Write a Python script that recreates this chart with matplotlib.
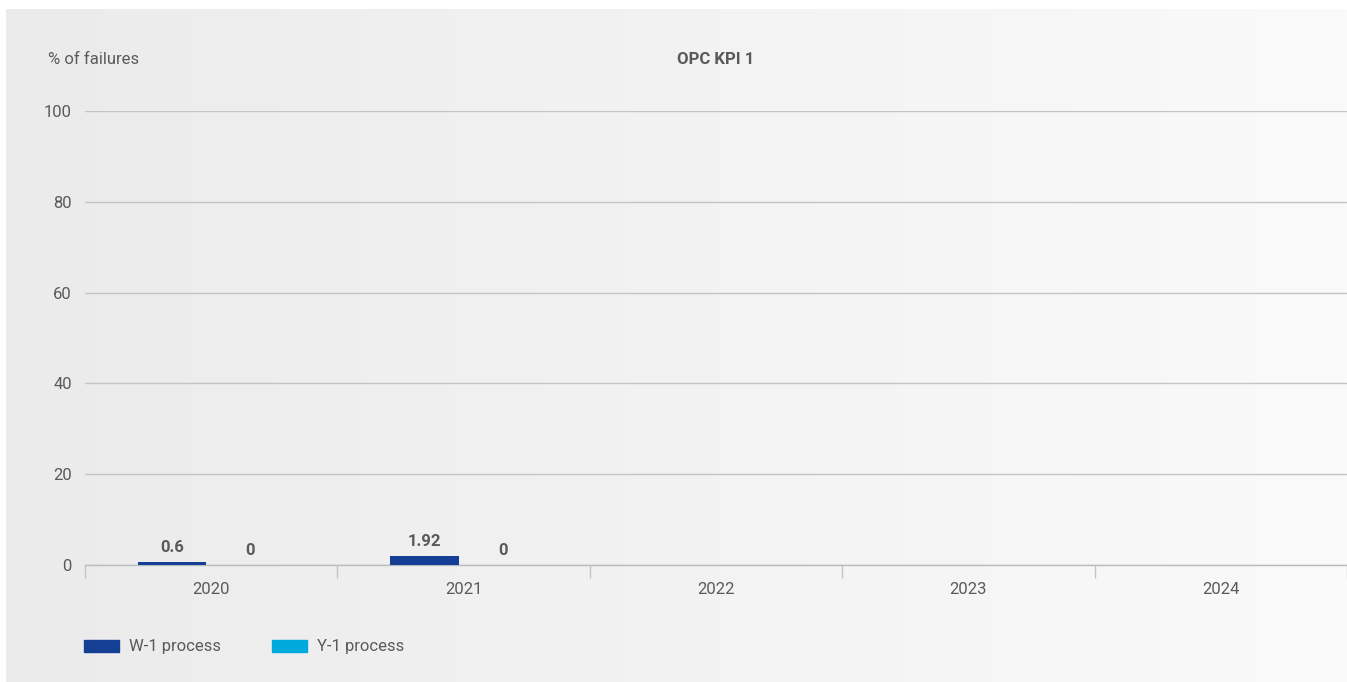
import numpy as np
import matplotlib.pyplot as plt
from matplotlib.patches import Rectangle

plt.rcParams['font.family'] = ['Roboto', 'DejaVu Sans']

years = ['2020', '2021', '2022', '2023', '2024']
w1_process = [0.6, 1.92, np.nan, np.nan, np.nan]
y1_process = [0, 0, np.nan, np.nan, np.nan]
series_names = ['W-1 process', 'Y-1 process']
series_colors = ['#143f94', '#00a9dc']
y_ticks = [0, 20, 40, 60, 80, 100]

text_color = '#5a5a5a'
W, H = 1347, 682

fig = plt.figure(figsize=(W / 100, H / 100), dpi=100)
fig.patch.set_facecolor('white')

# soft grey panel, slightly lighter towards the right
bg = fig.add_axes([6 / W, 0, 1 - 6 / W, 1 - 9 / H])
grad = np.linspace(0, 1, 256).reshape(1, -1)
bg.imshow(grad, aspect='auto', cmap=plt.matplotlib.colors.LinearSegmentedColormap.from_list(
    'panel', ['#ebebeb', '#fafafa']), extent=[0, 1, 0, 1])
bg.set_axis_off()

ax = fig.add_axes([85 / W, (H - 565) / H, (W - 85) / W, 454 / H])
ax.patch.set_alpha(0)

x = np.arange(len(years))
bw = 0.27
off = 0.155
b1 = ax.bar(x - off, w1_process, bw, color=series_colors[0], zorder=3)
b2 = ax.bar(x + off, y1_process, bw, color=series_colors[1], zorder=3)
for bars, vals in [(b1, w1_process), (b2, y1_process)]:
    labels = ['' if np.isnan(v) else f'{v:g}' for v in vals]
    ax.bar_label(bars, labels=labels, padding=5, fontsize=12, fontweight='bold', color=text_color)

ax.set_xlim(-0.5, -0.5 + (W - 85) / 255.5)
ax.set_ylim(0, 100)
ax.set_yticks(y_ticks)
ax.set_xticks(x)
ax.set_xticklabels(years)
ax.set_xticks(np.arange(len(years) + 1) - 0.5, minor=True)
ax.grid(axis='y', color='#c4c4c4', linewidth=1, zorder=0)
for s in ['top', 'right', 'left']:
    ax.spines[s].set_visible(False)
ax.spines['bottom'].set_color('#b8bcc2')
ax.spines['bottom'].set_linewidth(1)
ax.tick_params(axis='y', length=0, pad=9.5, labelsize=12, labelcolor=text_color)
ax.tick_params(axis='x', which='major', length=0, pad=12.5, labelsize=12, labelcolor=text_color)
ax.tick_params(axis='x', which='minor', length=9, width=1, color='#c4c4c4')

fig.text(48 / W, 1 - 60 / H, '% of failures', fontsize=12, color=text_color, va='center', ha='left')
fig.text((85 + W) / 2 / W, 1 - 60 / H, 'OPC KPI 1', fontsize=12, fontweight='bold',
         color=text_color, va='center', ha='center')

# legend swatches along the bottom
for i, (name, c) in enumerate(zip(series_names, series_colors)):
    x0 = 84 + i * 188
    fig.add_artist(Rectangle((x0 / W, 1 - 652 / H), 35 / W, 12 / H, color=c,
                             transform=fig.transFigure))
    fig.text((x0 + 45) / W, 1 - 646 / H, name, fontsize=12, color=text_color,
             va='center', ha='left')

fig.savefig('out.png', dpi=100)
